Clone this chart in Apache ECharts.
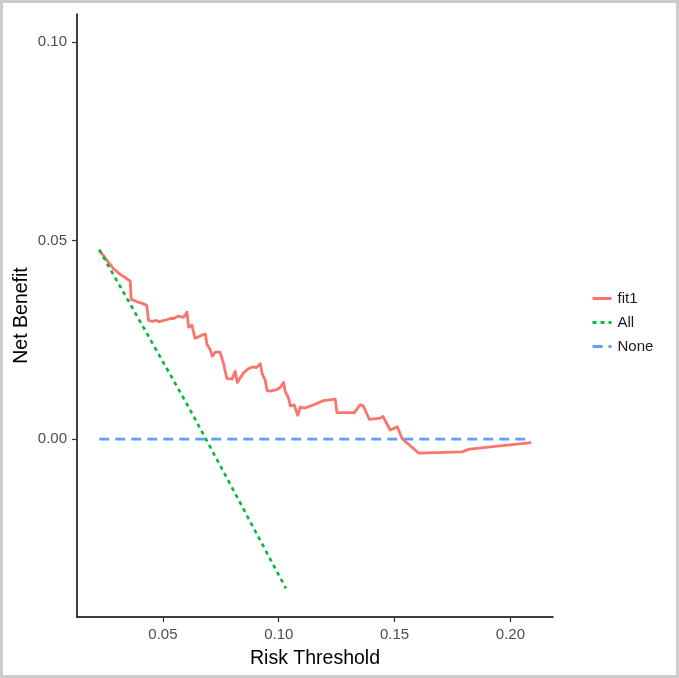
<!DOCTYPE html>
<html>
<head>
<meta charset="utf-8">
<script src="https://cdn.jsdelivr.net/npm/echarts@6/dist/echarts.min.js"></script>
<style>
html,body{margin:0;padding:0;background:#fff;}
#chart{position:absolute;left:0;top:0;width:679px;height:678px;}
#frame{position:absolute;left:0;top:0;width:679px;height:678px;box-sizing:border-box;border:3px solid #cccccc;pointer-events:none;}
</style>
</head>
<body>
<div id="chart"></div>
<div id="frame"></div>
<script>
// Series names
const seriesNames = ['fit1', 'All', 'None'];

// fit1 curve (risk threshold, net benefit)
const fitX = [0.0225,0.0255,0.0285,0.0316,0.0345,0.0359,0.0363,0.0389,0.0411,0.0430,0.0438,0.0454,0.0471,0.0484,0.0506,0.0532,0.0546,0.0567,0.0589,0.0604,0.0611,0.0625,0.0639,0.0668,0.0683,0.0690,0.0704,0.0713,0.0726,0.0747,0.0760,0.0776,0.0798,0.0812,0.0821,0.0848,0.0870,0.0890,0.0903,0.0920,0.0929,0.0942,0.0949,0.0963,0.0992,0.1006,0.1021,0.1028,0.1042,0.1050,0.1067,0.1082,0.1093,0.1110,0.1149,0.1193,0.1244,0.1251,0.1326,0.1352,0.1366,0.1391,0.1438,0.1450,0.1481,0.1512,0.1533,0.1604,0.1791,0.1823,0.2090];
const fitY = [0.0477,0.0453,0.0430,0.0415,0.0404,0.0398,0.0352,0.0346,0.0342,0.0337,0.0299,0.0297,0.0299,0.0296,0.0299,0.0304,0.0304,0.0310,0.0307,0.0320,0.0282,0.0287,0.0254,0.0262,0.0265,0.0239,0.0226,0.0209,0.0219,0.0219,0.0194,0.0153,0.0151,0.0171,0.0143,0.0167,0.0178,0.0182,0.0180,0.0190,0.0164,0.0148,0.0123,0.0121,0.0125,0.0130,0.0143,0.0120,0.0104,0.0084,0.0086,0.0060,0.0081,0.0078,0.0086,0.0097,0.0101,0.0067,0.0067,0.0087,0.0083,0.0050,0.0053,0.0057,0.0023,0.0031,0.0001,-0.0035,-0.0032,-0.0025,-0.0009];

// "All" (treat all) curve
const allX = [0.0225,0.0400,0.0600,0.0686,0.0800,0.1031];
const allY = [0.0477,0.0298,0.0092,0.0000,-0.0124,-0.0376];

// "None" (treat none) line
const noneX = [0.0225,0.2090];
const noneY = [0.0,0.0];

// Tick labels
const xTicks = [0.05,0.10,0.15,0.20];
const yTicks = [0.00,0.05,0.10];

const zip = (xs, ys) => xs.map((x, i) => [x, ys[i]]);

const chart = echarts.init(document.getElementById('chart'), null, {renderer:'canvas'});
const FONT = 'Liberation Sans, Arial, sans-serif';

chart.setOption({
  animation:false,
  backgroundColor:'#ffffff',
  grid:{left:77, right:126, top:14, bottom:61, containLabel:false},
  legend:{
    orient:'vertical', left:586, top:286,
    itemWidth:19, itemHeight:14, itemGap:9,
    data:seriesNames,
    itemStyle:{opacity:0},
    lineStyle:{width:3},
    textStyle:{fontFamily:FONT, fontSize:15, color:'#1a1a1a', padding:[0,0,0,1]}
  },
  xAxis:{
    type:'value', min:0.0129, max:0.2184,
    name:'Risk Threshold', nameLocation:'middle', nameGap:32, nameMoveOverlap:false,
    nameTextStyle:{fontFamily:FONT, fontSize:19.5, color:'#000'},
    axisLine:{show:true, onZero:false, lineStyle:{color:'#000', width:1.5}},
    axisTick:{show:true, length:5, lineStyle:{color:'#333', width:1.2}, customValues:xTicks},
    axisLabel:{fontFamily:FONT, fontSize:15, color:'#4d4d4d', margin:10,
      customValues:xTicks, formatter:v=>v.toFixed(2)},
    splitLine:{show:false}
  },
  yAxis:{
    type:'value', min:-0.0448, max:0.1071,
    name:'Net Benefit', nameLocation:'middle', nameGap:45, nameMoveOverlap:false,
    nameTextStyle:{fontFamily:FONT, fontSize:19.5, color:'#000'},
    axisLine:{show:true, onZero:false, lineStyle:{color:'#000', width:1.5}},
    axisTick:{show:true, length:5, lineStyle:{color:'#333', width:1.2}, customValues:yTicks},
    axisLabel:{fontFamily:FONT, fontSize:15, color:'#4d4d4d', margin:10,
      customValues:yTicks, formatter:v=>v.toFixed(2)},
    splitLine:{show:false}
  },
  series:[
    {name:seriesNames[0], type:'line', data:zip(fitX, fitY), showSymbol:false, symbol:'none',
     lineStyle:{color:'#F8766D', width:2.8, join:'round'}, itemStyle:{color:'#F8766D'}},
    {name:seriesNames[1], type:'line', data:zip(allX, allY), showSymbol:false, symbol:'none',
     lineStyle:{color:'#00BA38', width:2.6, type:[4,4]}, itemStyle:{color:'#00BA38'}},
    {name:seriesNames[2], type:'line', data:zip(noneX, noneY), showSymbol:false, symbol:'none',
     lineStyle:{color:'#619CFF', width:2.6, type:[10,6]}, itemStyle:{color:'#619CFF'}}
  ]
});
</script>
</body>
</html>
